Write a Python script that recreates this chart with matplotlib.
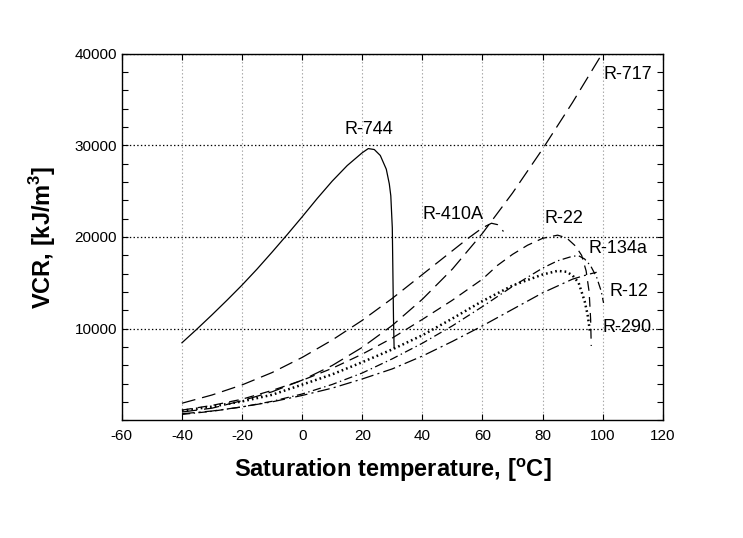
import matplotlib
matplotlib.use("Agg")
import matplotlib.pyplot as plt
from matplotlib.ticker import MultipleLocator, FixedLocator

plt.rcParams['font.family'] = ['Liberation Sans', 'DejaVu Sans']
plt.rcParams['mathtext.fontset'] = 'custom'
plt.rcParams['mathtext.rm'] = 'Liberation Sans'
plt.rcParams['mathtext.bf'] = 'Liberation Sans:bold'
plt.rcParams['lines.scale_dashes'] = False
plt.rcParams['axes.unicode_minus'] = False

# saturation temperature [C] and volumetric cooling capacity [kJ/m3]
t_744 = [-40, -35, -30, -25, -20, -15, -10, -5, 0, 5, 10, 15, 20, 22, 24, 26, 28, 29, 29.5, 30, 30.2, 30.4, 30.6]
vcr_744 = [8450, 9950, 11500, 13100, 14750, 16500, 18350, 20250, 22200, 24200, 26100, 27800, 29200,
           29650, 29550, 28900, 27400, 25800, 24500, 21000, 16000, 11000, 7900]

t_717 = [-40, -30, -20, -10, 0, 10, 20, 30, 40, 50, 60, 70, 80, 90, 100]
vcr_717 = [890, 1310, 2130, 3100, 4370, 5970, 7950, 10350, 13200, 16500, 20400, 24800, 29600, 34700, 40100]

t_410a = [-40, -30, -20, -10, 0, 10, 20, 30, 40, 50, 55, 60, 63, 65, 67]
vcr_410a = [1850, 2750, 3850, 5200, 6850, 8750, 10900, 13300, 15900, 18500, 19800, 21000, 21500, 21350, 20600]

t_22 = [-40, -30, -20, -10, 0, 10, 20, 30, 40, 50, 60, 65, 70, 75, 80, 85, 88, 91, 93, 94.5, 95.5, 96, 96.2]
vcr_22 = [1100, 1610, 2290, 3250, 4350, 5660, 7210, 8970, 11000, 13100, 15400, 16900, 18100, 19100, 19850,
          20200, 19900, 19000, 18000, 16300, 14000, 11000, 8100]

t_134a = [-40, -30, -20, -10, 0, 10, 20, 30, 40, 50, 60, 70, 80, 85, 90, 92, 94, 96, 98, 99.5, 100.3]
vcr_134a = [630, 970, 1450, 2060, 2860, 3900, 5150, 6700, 8400, 10300, 12400, 14600, 16600, 17400, 17900,
            17950, 17600, 16850, 15600, 14100, 12800]

t_12 = [-40, -30, -20, -10, 0, 10, 20, 30, 40, 50, 60, 70, 80, 90, 95, 98]
vcr_12 = [700, 1000, 1450, 2000, 2700, 3500, 4500, 5600, 7000, 8600, 10300, 12100, 13900, 15400, 15900, 16150]

t_290 = [-40, -30, -20, -10, 0, 10, 20, 30, 40, 50, 60, 70, 80, 85, 88, 90, 92, 94, 95, 95.8]
vcr_290 = [1030, 1480, 2050, 2770, 3880, 5000, 6330, 7730, 9270, 11100, 13000, 14700, 15900, 16300, 16200,
           15800, 15000, 13000, 11500, 9600]

fig = plt.figure(figsize=(7.43, 5.38), dpi=100)
ax = fig.add_axes([0.164, 0.219, 0.728, 0.681])

lw = 0.9
ax.plot(t_744, vcr_744, color='k', lw=lw)
ax.plot(t_717, vcr_717, color='k', lw=lw, dashes=(11, 5))
ax.plot(t_410a, vcr_410a, color='k', lw=lw, dashes=(10, 5))
ax.plot(t_22, vcr_22, color='k', lw=lw, dashes=(7, 4.5))
ax.plot(t_134a, vcr_134a, color='k', lw=lw, dashes=(6, 2.5, 1, 2.5))
ax.plot(t_12, vcr_12, color='k', lw=lw, dashes=(9, 3, 1.5, 3))
ax.plot(t_290, vcr_290, color='k', lw=1.8, dashes=(1.2, 2.2))

fs = 13
ax.text(22.2, 31700, 'R-744', ha='center', va='center', fontsize=fs)
ax.text(100.2, 37700, 'R-717', ha='left', va='center', fontsize=fs)
ax.text(50.3, 22500, 'R-410A', ha='center', va='center', fontsize=fs)
ax.text(87, 22000, 'R-22', ha='center', va='center', fontsize=fs)
ax.text(95.4, 18700, 'R-134a', ha='left', va='center', fontsize=fs)
ax.text(102.2, 14020, 'R-12', ha='left', va='center', fontsize=fs)
ax.text(100, 10110, 'R-290', ha='left', va='center', fontsize=fs)

ax.set_xlim(-60, 120)
ax.set_ylim(0, 40000)
ax.xaxis.set_major_locator(MultipleLocator(20))
ax.yaxis.set_major_locator(FixedLocator([10000, 20000, 30000, 40000]))
ax.yaxis.set_minor_locator(MultipleLocator(2000))
ax.tick_params(which='both', direction='in', top=True, right=True, length=4, width=0.8, labelsize=11)
ax.tick_params(axis='x', pad=6)

ax.xaxis.grid(True, linestyle=':', color='0.65', lw=0.8)
ax.yaxis.grid(True, linestyle=':', color='k', lw=0.9)
for s in ax.spines.values():
    s.set_linewidth(1.0)

ax.set_xlabel(r'Saturation temperature, [$^{\mathbf{o}}$C]', fontsize=17, fontweight='bold', labelpad=10)
ax.set_ylabel(r'VCR, [kJ/m$^{\mathbf{3}}$]', fontsize=17, fontweight='bold', labelpad=12)

fig.savefig('out.png', dpi=100)
